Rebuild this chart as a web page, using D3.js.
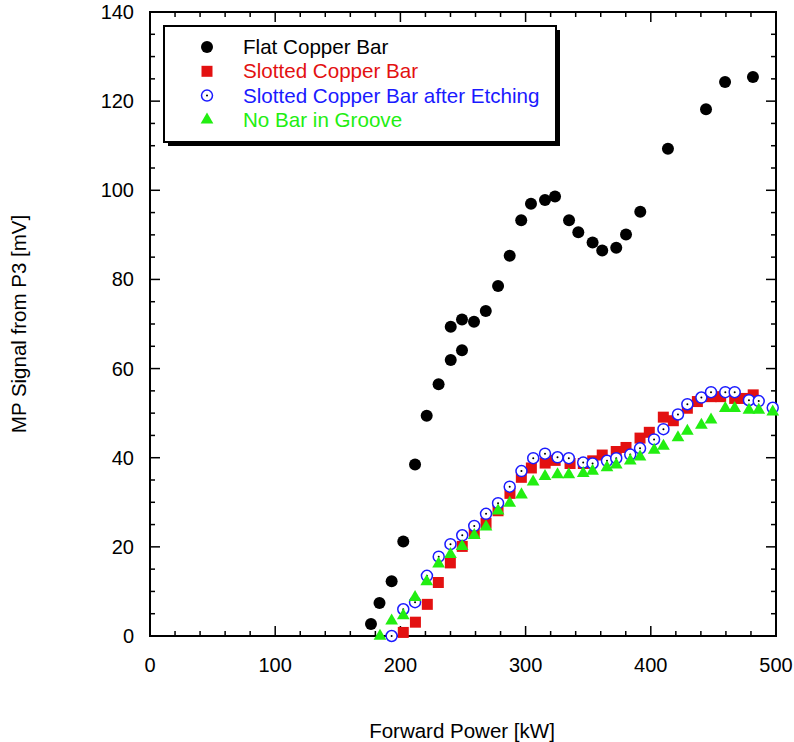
<!DOCTYPE html>
<html><head><meta charset="utf-8">
<script src="https://cdn.jsdelivr.net/npm/d3@7"></script>
<style>html,body{margin:0;padding:0;background:#fff;} text{font-family:"Liberation Sans",Arial,sans-serif;}</style>
</head><body><svg id="c" width="794" height="742"></svg>
<script>
const flatX=[176.5,183.3,193,202.3,211.7,221,230.5,240.2,249.2,240.2,249.2,258.8,268.2,278,287.3,296.5,304.3,315.5,323.5,334.7,342.1,353.5,361.2,372.4,380.2,391.6,413.7,444.1,459.3,481.6];
const flatY=[2.7,7.4,12.3,21.2,38.5,49.4,56.5,61.9,64.1,69.4,71.0,70.5,72.9,78.5,85.3,93.3,97.0,97.8,98.6,93.3,90.6,88.3,86.5,87.1,90.1,95.2,109.3,118.2,124.3,125.4];
const slotX=[202.3,212,221.5,230.3,239.9,249.4,259,268.4,278,287.5,296.6,304.6,315.6,323.6,335.5,346.1,353.6,361.2,372.4,380.2,391.4,398.8,410,418,429.2,437.2,448.3,455.8,467,474.4,481.8];
const slotY=[0.8,3.1,7.1,12.0,16.4,20.1,23.0,25.3,28.1,32.0,35.6,37.7,38.8,39.4,38.7,38.7,39.3,40.6,41.4,42.3,44.4,45.7,49.1,48.3,51.1,52.6,53.7,53.7,53.3,53.3,54.1];
const etchX=[193,202.3,211.7,221.2,230.6,240,249.4,259,268.4,278,287.3,296.7,306.1,315.5,325.5,334.5,346,353.5,365,372.4,383.6,391.4,402.6,410.1,421.7,429.2,440.4,448.1,459.5,467,478.4,486.2,497.4];
const etchY=[0,6.0,7.6,13.5,17.8,20.6,22.6,24.7,27.4,29.8,33.5,37.0,39.9,40.9,40.1,39.9,38.9,38.7,39.3,39.9,40.7,42.1,44.1,46.4,49.7,52.0,53.5,54.7,54.7,54.7,52.9,52.7,51.2];
const grooveX=[183.7,193,202.3,211.7,221,230.5,240,249.3,259,268.4,278,287.3,296.7,306,315.5,325.5,334.5,346,353.5,365,372.4,383.6,391.4,402.7,410.1,421.7,429.2,440.4,448.1,459.5,467,478.4,486.2,497.4];
const grooveY=[0,3.4,4.6,8.7,12.2,16.2,18.3,20.1,22.6,24.5,28.1,29.8,31.7,34.6,35.8,36.2,36.2,36.5,37.0,37.8,38.4,39.3,40.2,41.7,42.6,44.5,46.0,47.3,48.5,51.1,51.1,50.7,50.7,50.3];
const seriesNames=["Flat Copper Bar","Slotted Copper Bar","Slotted Copper Bar after Etching","No Bar in Groove"];
const xTicks=[0,100,200,300,400,500];
const yTicks=[0,20,40,60,80,100,120,140];
const xTitle="Forward Power [kW]", yTitle="MP Signal from P3 [mV]";

const L=150,T=12,W=626,H=624;
const svg=d3.select("#c");
const x=d3.scaleLinear().domain([0,500]).range([L,L+W]);
const y=d3.scaleLinear().domain([0,140]).range([T+H,T]);
const cRed="#e31111",cBlue="#1a1aff",cGreen="#22ee11";

// frame
svg.append("rect").attr("x",L).attr("y",T).attr("width",W).attr("height",H).attr("fill","none").attr("stroke","#000").attr("stroke-width",2);
const xMinor=d3.range(0,501,20), yMinor=d3.range(0,141,5);
const g=svg.append("g").attr("stroke","#000").attr("stroke-width",1.5);
xMinor.forEach(v=>{const len=v%100===0?10:5;
  g.append("line").attr("x1",x(v)).attr("x2",x(v)).attr("y1",T+H).attr("y2",T+H-len);
  g.append("line").attr("x1",x(v)).attr("x2",x(v)).attr("y1",T).attr("y2",T+len);});
yMinor.forEach(v=>{const len=v%20===0?10:5;
  g.append("line").attr("y1",y(v)).attr("y2",y(v)).attr("x1",L).attr("x2",L+len);
  g.append("line").attr("y1",y(v)).attr("y2",y(v)).attr("x1",L+W).attr("x2",L+W-len);});
xTicks.forEach(v=>svg.append("text").attr("x",x(v)).attr("y",T+H+36).attr("text-anchor","middle").attr("font-size",20).text(v));
yTicks.forEach(v=>svg.append("text").attr("x",L-16).attr("y",y(v)+7).attr("text-anchor","end").attr("font-size",20).text(v));
svg.append("text").attr("x",462).attr("y",738).attr("text-anchor","middle").attr("font-size",20.5).text(xTitle);
svg.append("text").attr("transform","translate(26,324) rotate(-90)").attr("text-anchor","middle").attr("font-size",20.5).text(yTitle);

const sq=d3.symbol().type(d3.symbolSquare).size(121);
const tri=d3.symbol().type(d3.symbolTriangle).size(70);
function drawFlat(sel,cx,cy){sel.append("circle").attr("cx",cx).attr("cy",cy).attr("r",6).attr("fill","#000");}
function drawSlot(sel,cx,cy){sel.append("path").attr("d",sq()).attr("transform",`translate(${cx},${cy})`).attr("fill",cRed);}
function drawEtch(sel,cx,cy){sel.append("circle").attr("cx",cx).attr("cy",cy).attr("r",5.5).attr("fill","#fff").attr("stroke",cBlue).attr("stroke-width",1.5);
  sel.append("circle").attr("cx",cx).attr("cy",cy).attr("r",1).attr("fill","#000");}
function drawGroove(sel,cx,cy){sel.append("path").attr("d",tri()).attr("transform",`translate(${cx},${cy})`).attr("fill",cGreen);}

const pts=svg.append("g");
flatX.forEach((v,i)=>drawFlat(pts,x(v),y(flatY[i])));
slotX.forEach((v,i)=>drawSlot(pts,x(v),y(slotY[i])));
etchX.forEach((v,i)=>drawEtch(pts,x(v),y(etchY[i])));
grooveX.forEach((v,i)=>drawGroove(pts,x(v),y(grooveY[i])));

// legend
const lg=svg.append("g");
lg.append("rect").attr("x",168).attr("y",30).attr("width",392).attr("height",116).attr("fill","#000");
lg.append("rect").attr("x",164).attr("y",26).attr("width",392).attr("height",116).attr("fill","#fff").attr("stroke","#000").attr("stroke-width",2);
const cols=["#000",cRed,cBlue,cGreen], fns=[drawFlat,drawSlot,drawEtch,drawGroove];
seriesNames.forEach((n,i)=>{const yy=47+i*24.3;
  fns[i](lg,207,yy);
  lg.append("text").attr("x",243).attr("y",yy+7).attr("font-size",20.6).attr("fill",cols[i]).text(n);});
</script></body></html>
